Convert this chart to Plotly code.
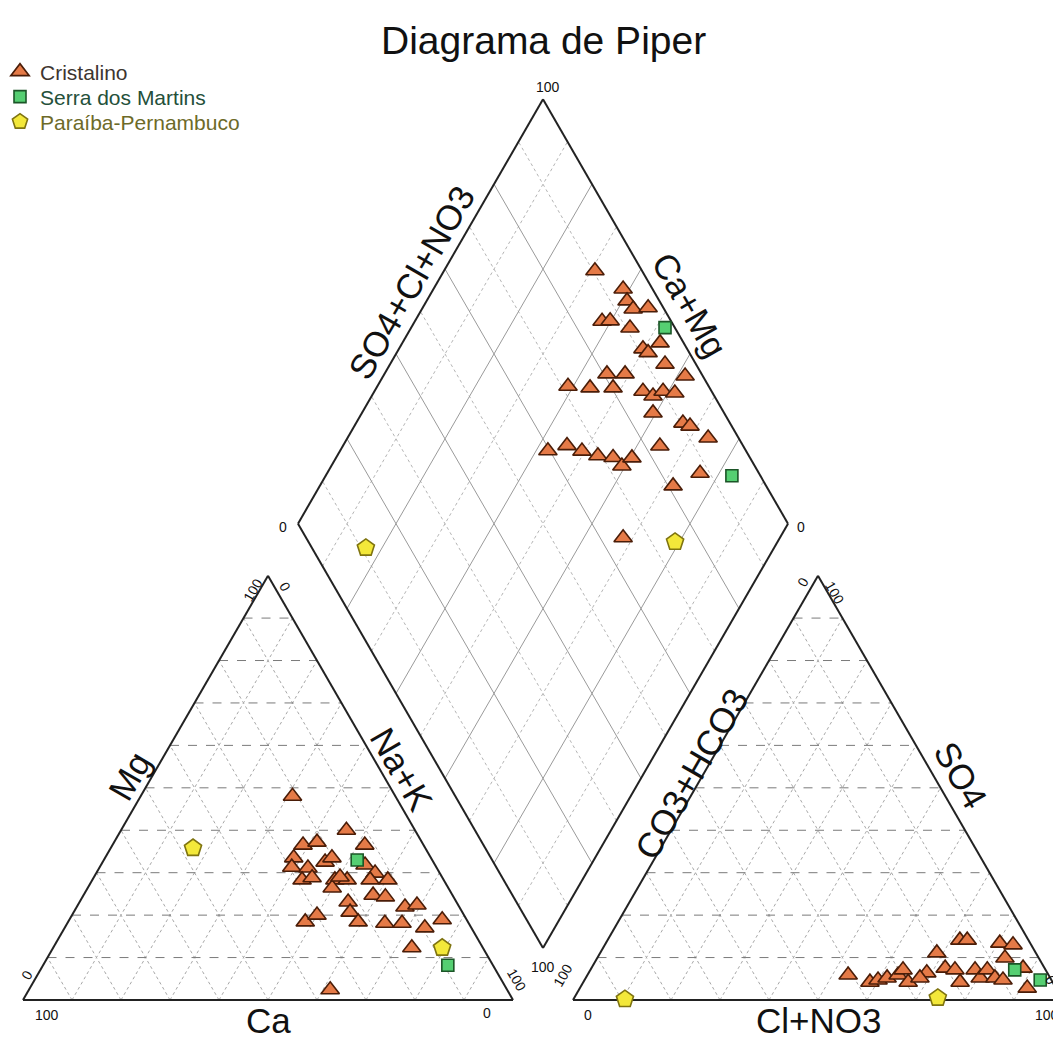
import numpy as np
import plotly.graph_objects as go

# ---------------- data (percent of meq/L) ----------------
groups = ["Cristalino", "Serra dos Martins", "Paraíba-Pernambuco"]

# Cation triangle: Ca, Mg  (Na+K = 100 - Ca - Mg)
cat_ca = {
    "Cristalino": [21, 14, 12, 24.6, 21.4, 28, 29.5, 26.3, 22.1, 20.2, 28.9, 26.6, 22.2, 19.7, 23.7,
                   14.3, 13.2, 11.4, 16.2, 13.9, 22.1, 22.9, 22.4, 33.2, 30, 11.1, 8.4, 17.1, 13.6,
                   9.5, 5, 14.5, 36.1, 20.8, 15],
    "Serra dos Martins": [15.3, 9.2],
    "Paraíba-Pernambuco": [47.4, 8.3],
}
cat_mg = {
    "Cristalino": [48, 40, 36.5, 36.5, 37.2, 33.5, 31.3, 31.1, 32.5, 33.5, 28.3, 28.8, 28.3, 28.3, 26.4,
                   31.8, 29.9, 28.3, 24.7, 24.3, 23.1, 20.7, 18.4, 18.4, 20, 21.9, 22.4, 18.1, 18.1,
                   17, 18.9, 12.3, 2.4, 29, 28.3],
    "Serra dos Martins": [33, 8.2],
    "Paraíba-Pernambuco": [35.8, 12.3],
}

# Anion triangle: Cl+NO3, SO4  (CO3+HCO3 = 100 - Cl - SO4)
an_cl = {
    "Cristalino": [53.2, 58.5, 59.9, 61.5, 63.4, 63.8, 66.3, 69, 68.7, 72.2, 74.4, 76.9, 71.9, 73.4,
                   78.5, 80.5, 81, 83.5, 80.4, 83.3, 83.2, 85.4, 88.1, 91.3, 68.2],
    "Serra dos Martins": [86.6, 93],
    "Paraíba-Pernambuco": [74.2, 10.5],
}
an_so4 = {
    "Cristalino": [5.9, 4.2, 4.7, 5.2, 5.9, 7.1, 4.2, 6.4, 11.1, 7.5, 7.1, 4.2, 14.1, 14.1,
                   7.1, 5.2, 7.1, 5.2, 13.4, 13, 9.9, 4.7, 7.5, 2.8, 5.2],
    "Serra dos Martins": [7.1, 4.7],
    "Paraíba-Pernambuco": [0.5, 0.2],
}

# Diamond: Ca+Mg, SO4+Cl+NO3
dia_camg = {
    "Cristalino": [69.2, 61.3, 59.1, 56.9, 54.0, 61.8, 60.2, 55.3, 47.4, 50.2, 48.7, 43.9, 38.4, 54.6,
                   50.9, 61.1, 56.4, 51.7, 45.2, 42.6, 41.1, 38.5, 40.6, 33.3, 31.5, 26.4, 35.3, 23.9,
                   57.6, 54.3, 50.6, 46.8, 43.5, 40.7, 39.6, 27.9, 32.0],
    "Serra dos Martins": [48.2, 17.1],
    "Paraíba-Pernambuco": [20.9, 83.3],
}
dia_so4cl = {
    "Cristalino": [90.4, 94.0, 93.4, 93.7, 96.9, 85.9, 87.6, 90.8, 95.2, 91.0, 91.6, 93.7, 96.4, 80.7,
                   84.4, 71.3, 75.6, 80.3, 86.0, 87.5, 90.1, 92.3, 85.5, 90.4, 91.5, 93.8, 83.0, 88.0,
                   59.6, 64.1, 66.5, 69.2, 72.1, 72.9, 75.9, 81.0, 64.7],
    "Serra dos Martins": [98.0, 94.2],
    "Paraíba-Pernambuco": [74.8, 11.0],
}

# ---------------- styles ----------------
marker_style = {
    "Cristalino": dict(symbol="triangle-up", size=16, color="#e57a47",
                       line=dict(color="#4a1d08", width=1.6)),
    "Serra dos Martins": dict(symbol="square", size=12, color="#55cf72",
                              line=dict(color="#1b5527", width=1.6)),
    "Paraíba-Pernambuco": dict(symbol="pentagon", size=18, color="#f3e83a",
                               line=dict(color="#7f7410", width=1.6)),
}
legend_color = {"Cristalino": "#3d3530", "Serra dos Martins": "#24503a",
                "Paraíba-Pernambuco": "#6d6a28"}

# ---------------- geometry ----------------
S3 = np.sqrt(3) / 2
GAP = 60 / 4.9
OX_AN = 100 + GAP
BX, BY = 100 + GAP / 2, GAP * S3

# page offset (browser body margin) and figure size
OFF = 8
W, H = 1061 - OFF, 1039 - OFF


def cation_xy(ca, mg):
    ca, mg = np.asarray(ca, float), np.asarray(mg, float)
    nak = 100 - ca - mg
    return nak + mg / 2, mg * S3


def anion_xy(cl, so4):
    cl, so4 = np.asarray(cl, float), np.asarray(so4, float)
    return OX_AN + cl + so4 / 2, so4 * S3


def diamond_xy(camg, so4cl):
    u, v = np.asarray(camg, float) / 100, np.asarray(so4cl, float) / 100
    return BX + 50 * (v - u), BY + 100 * S3 * (u + v)


fig = go.Figure()


def add_lines(segs, color, width, dash):
    xs, ys = [], []
    for (x0, y0), (x1, y1) in segs:
        xs += [x0, x1, None]
        ys += [y0, y1, None]
    fig.add_trace(go.Scatter(x=xs, y=ys, mode="lines", showlegend=False, hoverinfo="skip",
                             line=dict(color=color, width=width, dash=dash)))


def tri_grid(ox):
    horiz, diag = [], []
    for i in range(1, 10):
        t = i * 10
        horiz.append(((ox + t / 2, t * S3), (ox + 100 - t / 2, t * S3)))
        diag.append(((ox + t, 0), (ox + t + (100 - t) / 2, (100 - t) * S3)))
        diag.append(((ox + 100 - t, 0), (ox + (100 - t) / 2, (100 - t) * S3)))
    return horiz, diag


for ox in (0, OX_AN):
    h, d = tri_grid(ox)
    add_lines(d, "#a8a8a8", 1, "dot")
    add_lines(h, "#7a7a7a", 1, "dash")

# diamond grid
dsolid, ddot = [], []
for i in range(1, 10):
    t = i * 10
    a = (diamond_xy(t, 0), diamond_xy(t, 100))
    b = (diamond_xy(0, t), diamond_xy(100, t))
    seg_a = ((float(a[0][0]), float(a[0][1])), (float(a[1][0]), float(a[1][1])))
    seg_b = ((float(b[0][0]), float(b[0][1])), (float(b[1][0]), float(b[1][1])))
    (dsolid if i % 2 == 0 else ddot).extend([seg_a, seg_b])
add_lines(ddot, "#b5b5b5", 1, "dot")
add_lines(dsolid, "#9a9a9a", 1, "solid")

# outlines
outline = []
for ox in (0, OX_AN):
    pts = [(ox, 0), (ox + 100, 0), (ox + 50, 100 * S3), (ox, 0)]
    outline += list(zip(pts[:-1], pts[1:]))
dpts = [diamond_xy(0, 0), diamond_xy(100, 0), diamond_xy(100, 100), diamond_xy(0, 100), diamond_xy(0, 0)]
dpts = [(float(p[0]), float(p[1])) for p in dpts]
outline += list(zip(dpts[:-1], dpts[1:]))
add_lines(outline, "#222222", 2, "solid")

# data points (one legend box per group, so spacing can be tight)
legend_ids = ["legend", "legend2", "legend3"]
for g, lid in zip(groups, legend_ids):
    x1, y1 = cation_xy(cat_ca[g], cat_mg[g])
    x2, y2 = anion_xy(an_cl[g], an_so4[g])
    x3, y3 = diamond_xy(dia_camg[g], dia_so4cl[g])
    fig.add_trace(go.Scatter(
        x=np.concatenate([x1, x2, x3]), y=np.concatenate([y1, y2, y3]),
        mode="markers", name=f"<span style='color:{legend_color[g]}'>{g}</span>",
        marker=marker_style[g], legend=lid))

# ---------------- text ----------------
FONT = "Liberation Sans, Arial, sans-serif"
ann = []


def label(x, y, text, size=35, angle=0, color="#111111"):
    ann.append(dict(x=x, y=y, xref="x", yref="y", text=text, showarrow=False,
                    textangle=angle, font=dict(family=FONT, size=size, color=color),
                    xanchor="center", yanchor="middle"))


# axis titles
label(50, -4.2, "Ca")
label(21.8, 45.8, "Mg", angle=-60)
label(77.3, 47.0, "Na+K", angle=60)
label(79.2, 146.5, "SO4+Cl+NO3", angle=-60)
label(136.2, 141.8, "Ca+Mg", angle=60)
label(136.4, 46.3, "CO3+HCO3", angle=-60)
label(191.5, 45.9, "SO4", angle=60)
label(OX_AN + 50, -4.2, "Cl+NO3")

# tick labels
TS = 14
label(4.9, -3.1, "100", TS)
label(94.7, -2.7, "0", TS)
label(0.8, 5.1, "0", TS, -60)
label(46.9, 83.7, "100", TS, -60)
label(53.5, 84.3, "0", TS, 60)
label(100.8, 4.1, "100", TS, 60)

label(115.3, -3.1, "0", TS)
label(208.9, -3.1, "100", TS)
label(110.2, 5.1, "100", TS, -60)
label(159.2, 85.3, "0", TS, -60)
label(165.7, 83.1, "100", TS, 60)
label(209.8, 4.1, "0", TS, 60)

label(107.1, 186.4, "100", TS)
label(53.1, 96.5, "0", TS)
label(158.8, 96.5, "0", TS)
label(106.1, 6.7, "100", TS)

ann.append(dict(x=(543 - OFF) / W, y=1 - (40 - OFF) / H, xref="paper", yref="paper",
                text="Diagrama de Piper", showarrow=False,
                font=dict(family=FONT, size=39, color="#111111"),
                xanchor="center", yanchor="middle"))

legend_common = dict(x=-OFF / W, xanchor="left", yanchor="middle",
                     font=dict(family=FONT, size=21), itemsizing="trace",
                     bgcolor="rgba(0,0,0,0)")
legend_rows = [72, 97, 122]

fig.update_layout(
    width=W, height=H,
    margin=dict(l=0, r=0, t=0, b=0, autoexpand=False),
    paper_bgcolor="white", plot_bgcolor="white",
    xaxis=dict(range=[(OFF - 23) / 4.9, (1061 - 23) / 4.9], visible=False, fixedrange=True),
    yaxis=dict(range=[(1000 - 1039) / 4.9, (1000 - OFF) / 4.9], visible=False, fixedrange=True),
    annotations=ann,
    showlegend=True,
)
for lid, row in zip(legend_ids, legend_rows):
    fig.update_layout({lid: dict(legend_common, y=1 - (row - OFF) / H)})

fig.write_html("out.html")
